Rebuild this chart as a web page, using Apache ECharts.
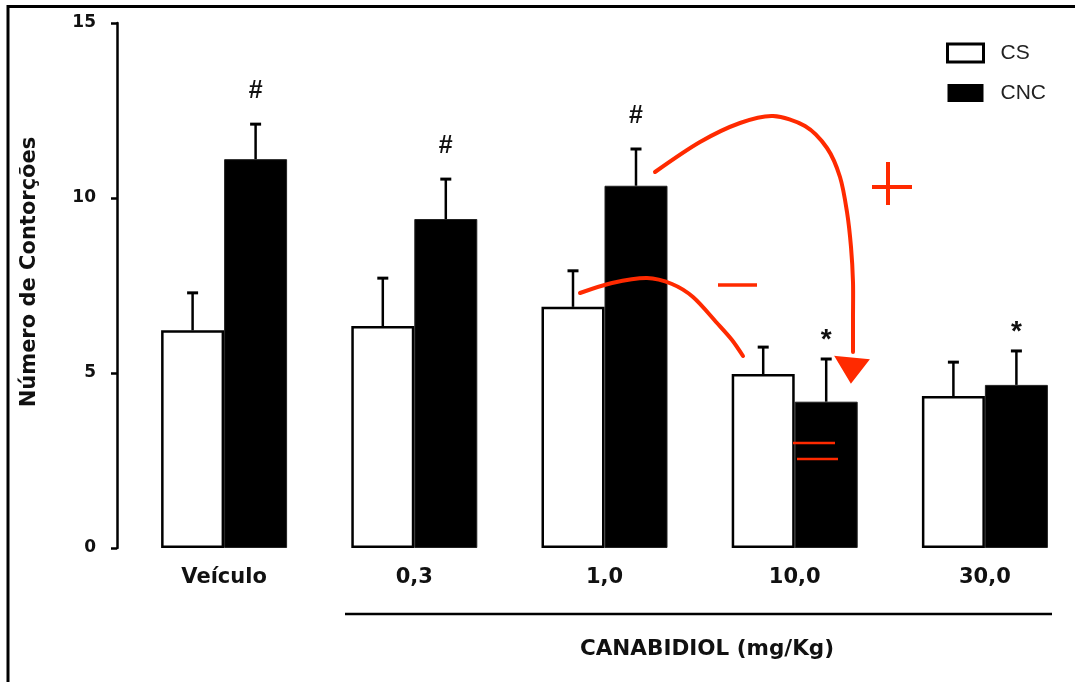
<!DOCTYPE html>
<html>
<head>
<meta charset="utf-8">
<script src="https://cdn.jsdelivr.net/npm/echarts@6/dist/echarts.min.js"></script>
<style>html,body{margin:0;padding:0;background:#fff;overflow:hidden}#c{width:1090px;height:682px}</style>
</head>
<body>
<div id="c"></div>
<script>
// ---- data ----
const categories = ['Veículo', '0,3', '1,0', '10,0', '30,0'];
const csMean  = [6.22, 6.34, 6.89, 4.97, 4.34];
const csSem   = [1.07, 1.37, 1.03, 0.77, 0.97];
const cncMean = [11.11, 9.40, 10.35, 4.18, 4.66];
const cncSem  = [1.00, 1.14, 1.05, 1.22, 0.97];
const cncMarks = ['#', '#', '#', '*', '*'];
const csMarks  = ['', '', '', '', ''];
const yTicks = [0, 5, 10, 15];

// ---- style ----
const BAR_W = 63;
const BOLD_FONT = 'DejaVu Sans';
const RED = '#ff2a00';

function errSeries(name, means, sems, marks, shift) {
  return {
    type: 'custom',
    name: name + '_err',
    coordinateSystem: 'cartesian2d',
    z: 5,
    silent: true,
    data: categories.map((c, i) => [i, means[i], sems[i]]),
    renderItem: function (params, api) {
      const i = api.value(0);
      const m = api.value(1), s = api.value(2);
      const base = api.coord([i, m]);
      const top = api.coord([i, m + s]);
      const x = base[0] + shift;
      const children = [
        { type: 'line', shape: { x1: x, y1: base[1], x2: x, y2: top[1] }, style: { stroke: '#000', lineWidth: 2.5 } },
        { type: 'line', shape: { x1: x - 5.5, y1: top[1], x2: x + 5.5, y2: top[1] }, style: { stroke: '#000', lineWidth: 3 } }
      ];
      const mk = marks[i];
      if (mk) {
        const isStar = mk === '*';
        children.push({
          type: 'text',
          style: {
            x: x, y: top[1] - (isStar ? 19 : 33),
            text: mk,
            fill: '#111',
            font: 'bold ' + (isStar ? 28 : 25) + 'px "Liberation Sans", Arial, sans-serif',
            textAlign: 'center', textVerticalAlign: 'middle'
          }
        });
      }
      return { type: 'group', children: children };
    }
  };
}

const chart = echarts.init(document.getElementById('c'), null, { renderer: 'canvas' });
const option = {
  animation: false,
  backgroundColor: '#fff',
  grid: { left: 129, top: 23, width: 951, bottom: 134, containLabel: false },
  legend: {
    orient: 'vertical',
    left: 946, top: 42,
    padding: 0,
    itemWidth: 36, itemHeight: 18,
    itemGap: 18,
    selectedMode: false,
    textStyle: { fontFamily: '"Liberation Sans", Arial, sans-serif', fontSize: 21, color: '#222', padding: [0, 0, 0, 12], lineHeight: 22 },
    data: [
      { name: 'CS', icon: 'rect', itemStyle: { color: '#fff', borderColor: '#000', borderWidth: 3 } },
      { name: 'CNC', icon: 'rect', itemStyle: { color: '#000', borderColor: '#000', borderWidth: 0 } }
    ]
  },
  xAxis: {
    type: 'category',
    data: categories,
    axisLine: { show: false },
    axisTick: { show: false },
    axisLabel: { fontFamily: BOLD_FONT, fontWeight: 'bold', fontSize: 21, color: '#111', margin: 19 }
  },
  yAxis: {
    type: 'value',
    min: yTicks[0], max: yTicks[yTicks.length - 1], interval: 5,
    offset: 12,
    axisLine: { show: true, lineStyle: { color: '#000', width: 2.5 } },
    axisTick: { show: true, length: 6, lineStyle: { color: '#000', width: 2.5 } },
    splitLine: { show: false },
    axisLabel: { fontFamily: BOLD_FONT, fontWeight: 'bold', fontSize: 17, color: '#111', margin: 21 }
  },
  series: [
    {
      name: 'CS', type: 'bar', data: csMean, barWidth: BAR_W, barGap: '0%',
      itemStyle: { color: '#fff', borderColor: '#000', borderWidth: 2.5 }, z: 3
    },
    {
      name: 'CNC', type: 'bar', data: cncMean, barWidth: BAR_W, barGap: '0%',
      itemStyle: { color: '#000', borderColor: '#222', borderWidth: 1 }, z: 2
    },
    errSeries('CS', csMean, csSem, csMarks, -BAR_W / 2),
    errSeries('CNC', cncMean, cncSem, cncMarks, BAR_W / 2)
  ],
  graphic: [
    // frame
    { type: 'polyline', shape: { points: [[8, 682], [8, 6.5], [1090, 6.5]] }, style: { stroke: '#000', lineWidth: 3, fill: null }, z: 10 },
    // y axis title
    { type: 'text', x: 30, y: 272, rotation: Math.PI / 2,
      style: { text: 'Número de Contorções', font: 'bold 21px "DejaVu Sans", sans-serif', fill: '#111', textAlign: 'center', textVerticalAlign: 'middle' } },
    // group line + label
    { type: 'line', shape: { x1: 345, y1: 614, x2: 1052, y2: 614 }, style: { stroke: '#000', lineWidth: 2.5 } },
    { type: 'text', x: 707, y: 649,
      style: { text: 'CANABIDIOL (mg/Kg)', font: 'bold 21.5px "DejaVu Sans", sans-serif', fill: '#111', textAlign: 'center', textVerticalAlign: 'middle' } },
    // red hand-drawn annotations
    { type: 'polyline', z: 20, shape: { smooth: 0.3, points: [[655,172],[700,142],[740,123],[773,116],[805,126],[827,148],[840,177],[847,212],[851,247],[853,282],[853,318],[853,352]] },
      style: { stroke: RED, lineWidth: 4, fill: null, lineCap: 'round' } },
    { type: 'polygon', z: 20, shape: { points: [[836,357],[868,360],[851,382]] }, style: { fill: RED, stroke: RED, lineWidth: 2 } },
    { type: 'polyline', z: 20, shape: { smooth: 0.3, points: [[580,293],[612,283],[647,278],[672,284],[693,297],[717,323],[732,340],[743,356]] },
      style: { stroke: RED, lineWidth: 4, fill: null, lineCap: 'round' } },
    { type: 'line', z: 20, shape: { x1: 718, y1: 285, x2: 757, y2: 285 }, style: { stroke: RED, lineWidth: 3.5 } },
    { type: 'line', z: 20, shape: { x1: 872, y1: 187, x2: 912, y2: 187 }, style: { stroke: RED, lineWidth: 4 } },
    { type: 'line', z: 20, shape: { x1: 888, y1: 162, x2: 888, y2: 205 }, style: { stroke: RED, lineWidth: 4 } },
    { type: 'line', z: 20, shape: { x1: 793, y1: 443, x2: 835, y2: 443 }, style: { stroke: RED, lineWidth: 2.5 } },
    { type: 'line', z: 20, shape: { x1: 797, y1: 459, x2: 838, y2: 459 }, style: { stroke: RED, lineWidth: 2.5 } }
  ]
};
chart.setOption(option);
</script>
</body>
</html>
